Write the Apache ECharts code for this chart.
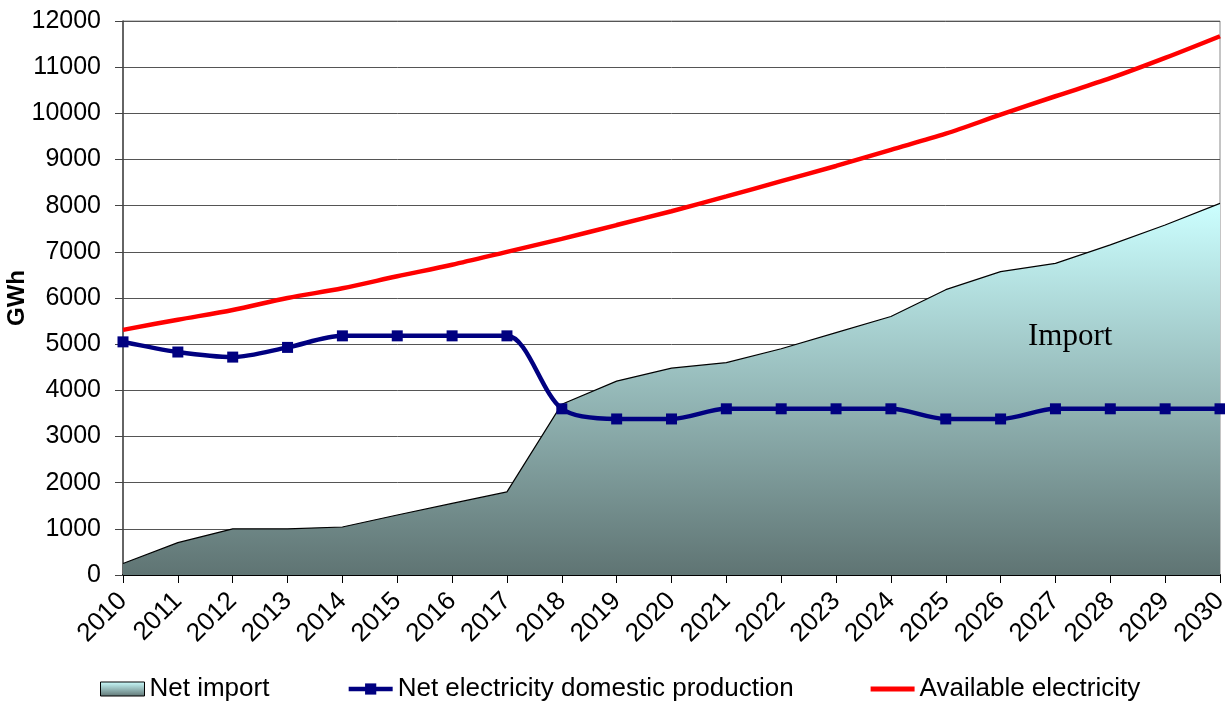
<!DOCTYPE html>
<html>
<head>
<meta charset="utf-8">
<script src="https://cdn.jsdelivr.net/npm/echarts@6/dist/echarts.min.js"></script>
<style>
html,body{margin:0;padding:0;background:#fff;}
#chart{width:1225px;height:703px;}
</style>
</head>
<body>
<div id="chart"></div>
<script>
var years = ['2010','2011','2012','2013','2014','2015','2016','2017','2018','2019','2020','2021','2022','2023','2024','2025','2026','2027','2028','2029','2030'];
var netImport = [250, 700, 1000, 1000, 1040, 1300, 1550, 1800, 3700, 4200, 4480, 4600, 4900, 5250, 5600, 6180, 6570, 6750, 7150, 7580, 8050];
var domesticProduction = [5050, 4830, 4720, 4930, 5180, 5180, 5180, 5180, 3600, 3380, 3380, 3600, 3600, 3600, 3600, 3380, 3380, 3600, 3600, 3600, 3600];
var availableElectricity = [5310, 5530, 5740, 6000, 6210, 6470, 6720, 7000, 7280, 7580, 7880, 8200, 8530, 8860, 9210, 9560, 9970, 10370, 10760, 11200, 11670];

var FONT = 'Liberation Sans, Arial, sans-serif';
function grad() {
  return new echarts.graphic.LinearGradient(0, 0, 0, 1, [
    {offset: 0, color: '#CCFFFF'},
    {offset: 1, color: '#5F7473'}
  ]);
}

var chart = echarts.init(document.getElementById('chart'), null, {renderer: 'canvas'});
chart.setOption({
  animation: false,
  backgroundColor: '#ffffff',
  grid: {left: 123, right: 5, top: 21, bottom: 128, outerBoundsMode: 'none', containLabel: false,
         show: true, borderColor: '#8a8a8a', borderWidth: 1, backgroundColor: 'transparent'},
  legend: {
    left: 100, top: 676, padding: 0,
    itemWidth: 44, itemHeight: 14, itemGap: 77,
    textStyle: {fontFamily: FONT, fontSize: 26, color: '#000'},
    data: [
      {name: 'Net import', icon: 'rect', itemStyle: {color: grad(), borderColor: '#000', borderWidth: 1}},
      {name: 'Net electricity domestic production', lineStyle: {width: 4.5, color: '#000080'}},
      {name: 'Available electricity',
       icon: 'path://M0,0 L44,0 L44,0.01 L0,0.01 Z M0,4.5 L44,4.5 L44,9.5 L0,9.5 Z M0,14 L44,14 L44,14.01 L0,14.01 Z',
       itemStyle: {color: '#FF0000', borderWidth: 0}}
    ]
  },
  xAxis: {
    type: 'category', data: years, boundaryGap: false,
    axisLine: {lineStyle: {color: '#000', width: 2}},
    axisTick: {show: true, length: 8, inside: false, alignWithLabel: true, lineStyle: {color: '#000', width: 1}},
    axisLabel: {rotate: 45, fontFamily: FONT, fontSize: 26, color: '#000', margin: 22, interval: 0},
    splitLine: {show: false}
  },
  yAxis: {
    type: 'value', min: 0, max: 12000, interval: 1000,
    name: 'GWh', nameLocation: 'middle', nameGap: 94, nameRotate: 90, nameMoveOverlap: false,
    nameTextStyle: {fontFamily: FONT, fontSize: 24, fontWeight: 'bold', color: '#000'},
    axisLine: {show: true, lineStyle: {color: '#444', width: 1.5}},
    axisTick: {show: true, length: 8, lineStyle: {color: '#444', width: 1}},
    axisLabel: {fontFamily: FONT, fontSize: 25, color: '#000', margin: 22,
                formatter: function (v) { return String(v); }},
    splitLine: {show: true, lineStyle: {color: '#555', width: 1}}
  },
  graphic: [{
    type: 'text', left: 1028, top: 321, z: 100,
    style: {text: 'Import', font: '31px "Liberation Serif", "Times New Roman", serif', fill: '#000'}
  }],
  series: [
    {
      name: 'Net import', type: 'line', data: netImport, z: 1,
      symbol: 'none', showSymbol: false,
      itemStyle: {color: grad()},
      lineStyle: {color: '#000', width: 1.2},
      areaStyle: {color: grad(), opacity: 1}
    },
    {
      name: 'Available electricity', type: 'line', data: availableElectricity, z: 3,
      symbol: 'none', showSymbol: false, smooth: 0.3,
      itemStyle: {color: '#FF0000'},
      lineStyle: {color: '#FF0000', width: 4.5}
    },
    {
      name: 'Net electricity domestic production', type: 'line', data: domesticProduction, z: 4,
      symbol: 'rect', symbolSize: 11, showSymbol: true, smooth: 0.3, smoothConstraint: false,
      itemStyle: {color: '#000080'},
      lineStyle: {color: '#000080', width: 4.5}
    }
  ]
});
</script>
</body>
</html>
